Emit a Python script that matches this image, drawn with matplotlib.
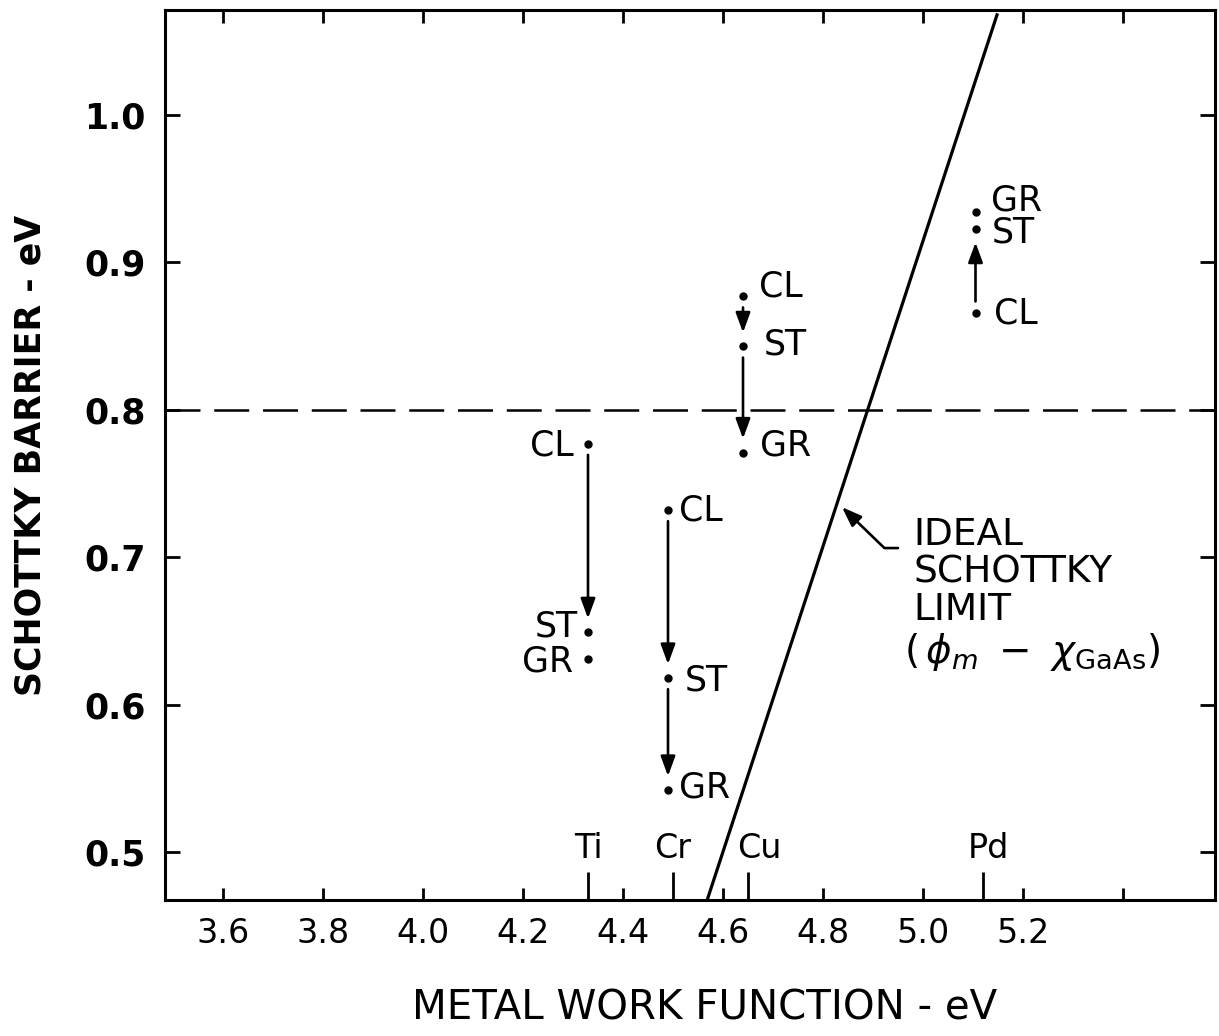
import matplotlib.pyplot as plt
import numpy as np

# metals and their work functions (long ticks on the x axis)
metals = ['Ti', 'Cr', 'Cu', 'Pd']
metal_wf = [4.33, 4.50, 4.65, 5.12]
# x position of the measured points for each metal
dot_wf = [4.33, 4.49, 4.64, 5.105]

# barrier heights (eV) for each surface treatment
barrier_cl = [0.777, 0.732, 0.877, 0.866]
barrier_st = [0.649, 0.618, 0.843, 0.923]
barrier_gr = [0.631, 0.542, 0.771, 0.934]

# arrows: (metal index, from, to)
arrows = [(0, 'CL', 'ST'), (1, 'CL', 'ST'), (1, 'ST', 'GR'),
          (2, 'CL', 'ST'), (2, 'ST', 'GR'), (3, 'CL', 'ST')]

gaas_level = 0.8
ideal_wf = [4.568, 5.148]
ideal_barrier = [0.467, 1.068]

xtick_vals = [3.6, 3.8, 4.0, 4.2, 4.4, 4.6, 4.8, 5.0, 5.2, 5.4]
xtick_labels = ['3.6', '3.8', '4.0', '4.2', '4.4', '4.6', '4.8', '5.0', '5.2', '']
ytick_vals = [0.5, 0.6, 0.7, 0.8, 0.9, 1.0]
ytick_labels = ['0.5', '0.6', '0.7', '0.8', '0.9', '1.0']

plt.rcParams['font.family'] = ['DejaVu Sans']
plt.rcParams['mathtext.fontset'] = 'dejavusans'

fig = plt.figure(figsize=(12.19, 10.36), dpi=100)
ax = fig.add_axes([165 / 1219, 136 / 1036, 1050 / 1219, 890 / 1036])
ax.set_xlim(3.484, 5.584)
ax.set_ylim(0.4674, 1.0713)

for s in ax.spines.values():
    s.set_linewidth(2.2)

ax.set_xticks(xtick_vals)
ax.set_xticklabels(xtick_labels, fontsize=24)
ax.set_xticks(metal_wf, minor=True)
ax.set_yticks(ytick_vals)
ax.set_yticklabels(ytick_labels, fontsize=25, fontweight='bold')
ax.tick_params(axis='x', which='major', direction='in', length=9, width=2,
               top=True, pad=12)
ax.tick_params(axis='x', which='minor', direction='in', length=20, width=2,
               top=False)
ax.tick_params(axis='y', which='major', direction='in', length=11, width=2,
               right=True, pad=14)

# reference level and ideal Schottky limit
ax.axhline(gaas_level, color='black', lw=1.8, dashes=(14, 5.5))
ax.plot(ideal_wf, ideal_barrier, color='black', lw=2.3)

series = {'CL': barrier_cl, 'ST': barrier_st, 'GR': barrier_gr}

# label offsets in points (dx, dy, ha)
label_off = {
    'Ti': {'CL': (-10, -1, 'right'), 'ST': (-7, 4, 'right'), 'GR': (-11, -2, 'right')},
    'Cr': {'CL': (8, 0, 'left'), 'ST': (12, -1.5, 'left'), 'GR': (8, 2, 'left')},
    'Cu': {'CL': (11.5, 7, 'left'), 'ST': (15, 1.5, 'left'), 'GR': (12, 5, 'left')},
    'Pd': {'CL': (13, -1, 'left'), 'ST': (12, -3, 'left'), 'GR': (11, 8.5, 'left')},
}

for i, m in enumerate(metals):
    for t, vals in series.items():
        ax.plot(dot_wf[i], vals[i], 'o', color='black', ms=5)
        dx, dy, ha = label_off[m][t]
        ax.annotate(t, (dot_wf[i], vals[i]), xytext=(dx, dy),
                    textcoords='offset points', ha=ha, va='center',
                    fontsize=25)

for i, a, b in arrows:
    ax.annotate('', xy=(dot_wf[i], series[b][i]), xytext=(dot_wf[i], series[a][i]),
                arrowprops=dict(arrowstyle='-|>,head_length=0.6,head_width=0.22',
                                mutation_scale=20, color='black', lw=1.9,
                                shrinkA=8, shrinkB=10))

# metal names above the long ticks
metal_dx = {'Ti': 0, 'Cr': 0, 'Cu': 8, 'Pd': 4}
for m, wf in zip(metals, metal_wf):
    ax.annotate(m, (wf, 0.4674), xytext=(metal_dx[m], 37),
                textcoords='offset points', ha='center', va='center',
                fontsize=24)

# ideal Schottky limit annotation
ax.annotate('', xy=(4.838, 0.734), xytext=(4.95, 0.7062),
            arrowprops=dict(arrowstyle='-|>,head_length=0.6,head_width=0.22',
                            mutation_scale=20, color='black', lw=1.9,
                            shrinkA=0, shrinkB=0,
                            connectionstyle='angle,angleA=0,angleB=-44,rad=0'))
ax.text(4.98, 0.727, 'IDEAL\nSCHOTTKY\nLIMIT', ha='left', va='top',
        fontsize=27, linespacing=1.05)
ax.text(4.962, 0.636, r'$(\,\phi_m\ -\ \chi_{\mathrm{GaAs}})$', ha='left',
        va='center', fontsize=28)

ax.set_xlabel('METAL WORK FUNCTION - eV', fontsize=29)
ax.xaxis.set_label_coords(0.514, -0.1)
ax.set_ylabel('SCHOTTKY BARRIER - eV', fontsize=25, fontweight='bold')
ax.yaxis.set_label_coords(-0.112, 0.5)

fig.savefig('out.png', dpi=100)
